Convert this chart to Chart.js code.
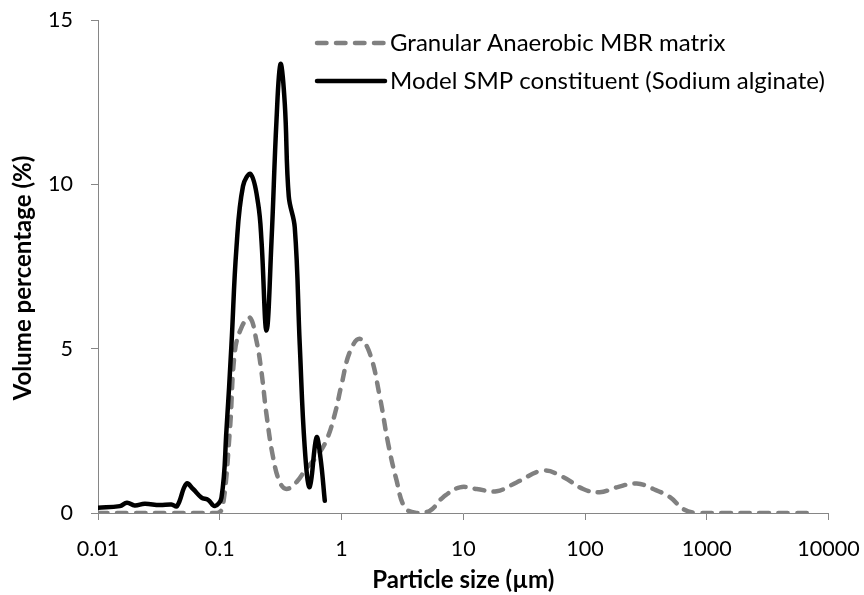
<!DOCTYPE html>
<html>
<head>
<meta charset="utf-8">
<script src="https://cdn.jsdelivr.net/npm/chart.js@4.4.1/dist/chart.umd.min.js"></script>
<style>
  html, body { margin: 0; padding: 0; background: #fff; }
  #wrap { width: 864px; height: 595px; }
</style>
</head>
<body>
<div id="wrap"><canvas id="psdChart" width="864" height="595"></canvas></div>
<script>
"use strict";

const FONT = "Lato, 'Open Sans', sans-serif";

// series
const seriesNames = ["Granular Anaerobic MBR matrix", "Model SMP constituent (Sodium alginate)"];

const granularSize = [0.01, 0.02, 0.04, 0.07, 0.0964, 0.106, 0.121, 0.133, 0.151, 0.176, 0.2, 0.22,
  0.242, 0.274, 0.311, 0.353, 0.427, 0.515, 0.62, 0.75, 0.88, 1.0, 1.17, 1.41, 1.71, 2.06, 2.42,
  2.83, 3.31, 4.13, 5.32, 6.84, 9.38, 12.9, 18.8, 27.4, 45.4, 66.3, 96.6, 132, 182, 266, 364, 499,
  642, 829, 1500, 3000, 5000, 7740];
const granularVolume = [0, 0, 0, 0, 0, 0.2, 2.5, 4.9, 5.65, 5.95, 5.25, 4.3,
  3.0, 1.7, 0.94, 0.73, 0.94, 1.36, 1.7, 2.2, 3.0, 3.9, 4.9, 5.3, 4.85, 3.55, 2.1,
  1.0, 0.17, 0, 0.07, 0.48, 0.78, 0.73, 0.66, 0.93, 1.29, 1.09, 0.73, 0.63, 0.78, 0.9, 0.73, 0.48,
  0.12, 0, 0, 0, 0, 0];

const alginateSize = [0.01, 0.0151, 0.0173, 0.02, 0.0242, 0.0321, 0.0401, 0.0446, 0.0532, 0.0604,
  0.0708, 0.0802, 0.091, 0.1033, 0.1135, 0.1248, 0.1371, 0.1553, 0.1797, 0.2065, 0.2203, 0.2421,
  0.2661, 0.2924, 0.3155, 0.342, 0.369, 0.4131, 0.454, 0.4989, 0.5483, 0.623, 0.672, 0.729];
const alginateVolume = [0.16, 0.21, 0.31, 0.23, 0.28, 0.24, 0.26, 0.21, 0.89, 0.73,
  0.47, 0.4, 0.21, 0.47, 2.51, 5.13, 8.06, 9.95, 10.31, 9.42, 8.27, 5.55,
  8.27, 11.94, 13.66, 12.46, 9.63, 8.69, 5.13, 1.99, 0.79, 2.3, 1.68, 0.37];

// axes
const xTicks = [0.01, 0.1, 1, 10, 100, 1000, 10000];
const xTickLabels = ["0.01", "0.1", "1", "10", "100", "1000", "10000"];
const yTicks = [0, 5, 10, 15];
const xTitle = "Particle size (µm)";
const yTitle = "Volume percentage (%)";

function toPoints(xs, ys) {
  return xs.map(function (x, i) {
    return { x: x, y: ys[i] };
  });
}

// legend drawn inside the plot, Excel style
const lineLegend = {
  id: "lineLegend",
  afterDraw(chart, args, opts) {
    const ctx = chart.ctx;
    chart.data.datasets.forEach((ds, i) => {
      const y = opts.top + i * opts.rowGap;
      ctx.save();
      ctx.strokeStyle = ds.borderColor;
      ctx.lineWidth = ds.borderWidth;
      ctx.lineCap = ds.borderCapStyle || "butt";
      ctx.setLineDash(ds.borderDash || []);
      ctx.beginPath();
      ctx.moveTo(opts.left, y);
      ctx.lineTo(opts.left + opts.sample, y);
      ctx.stroke();
      ctx.setLineDash([]);
      ctx.fillStyle = "#000";
      ctx.font = opts.fontSize + "px " + FONT;
      ctx.textBaseline = "middle";
      ctx.fillText(ds.label, opts.left + opts.sample + opts.gap, y);
      ctx.restore();
    });
  },
};

// y title sits a bit below the middle of the axis in the original
const yAxisTitle = {
  id: "yAxisTitle",
  afterDraw(chart, args, opts) {
    const ctx = chart.ctx;
    ctx.save();
    ctx.translate(opts.x, opts.y);
    ctx.rotate(-Math.PI / 2);
    ctx.fillStyle = "#000";
    ctx.font = "bold " + opts.fontSize + "px " + FONT;
    ctx.textAlign = "center";
    ctx.textBaseline = "middle";
    ctx.fillText(opts.text, 0, 0);
    ctx.restore();
  },
};

const ctx = document.getElementById("psdChart").getContext("2d");
new Chart(ctx, {
  type: "line",
  data: {
    datasets: [
      {
        label: seriesNames[0],
        data: toPoints(granularSize, granularVolume),
        borderColor: "#808080",
        borderWidth: 4.5,
        borderDash: [9.5, 9.5],
        borderCapStyle: "round",
        pointRadius: 0,
        tension: 0.4,
        fill: false,
        order: 1,
      },
      {
        label: seriesNames[1],
        data: toPoints(alginateSize, alginateVolume),
        borderColor: "#000000",
        borderWidth: 4.5,
        borderCapStyle: "round",
        borderJoinStyle: "round",
        pointRadius: 0,
        tension: 0.4,
        fill: false,
        order: 0,
      },
    ],
  },
  options: {
    responsive: false,
    animation: false,
    layout: {
      padding: 0,
    },
    plugins: {
      legend: { display: false },
      tooltip: { enabled: false },
      lineLegend: {
        left: 317,
        top: 43,
        rowGap: 38,
        sample: 68,
        gap: 5,
        fontSize: 24,
      },
      yAxisTitle: {
        text: yTitle,
        x: 23,
        y: 278,
        fontSize: 24,
      },
    },
    scales: {
      x: {
        type: "logarithmic",
        min: 0.01,
        max: 10000,
        afterBuildTicks: function (scale) {
          scale.ticks = xTicks.map(function (v) {
            return { value: v };
          });
        },
        afterFit: function (scale) {
          scale.height = 82;
          scale.paddingLeft = 0;
          scale.paddingRight = 35.5;
        },
        ticks: {
          autoSkip: false,
          maxRotation: 0,
          minRotation: 0,
          padding: 16,
          color: "#000",
          font: { family: FONT, size: 21.5 },
          callback: function (value, index) {
            return xTickLabels[index];
          },
        },
        grid: {
          drawOnChartArea: false,
          drawTicks: true,
          tickLength: 7,
          color: "#868686",
        },
        border: { display: true, color: "#868686", width: 1 },
        title: {
          display: true,
          text: xTitle,
          color: "#000",
          font: { family: FONT, size: 24, weight: "bold" },
          padding: { top: 0, bottom: 0 },
        },
      },
      y: {
        min: 0,
        max: 15,
        afterBuildTicks: function (scale) {
          scale.ticks = yTicks.map(function (v) {
            return { value: v };
          });
        },
        afterFit: function (scale) {
          scale.width = 98;
          scale.paddingTop = 20;
          scale.paddingBottom = 0;
        },
        ticks: {
          padding: 18,
          color: "#000",
          font: { family: FONT, size: 21.5 },
        },
        grid: {
          drawOnChartArea: false,
          drawTicks: true,
          tickLength: 7,
          color: "#868686",
        },
        border: { display: true, color: "#868686", width: 1 },
        title: { display: false },
      },
    },
  },
  plugins: [lineLegend, yAxisTitle],
});
</script>
</body>
</html>
